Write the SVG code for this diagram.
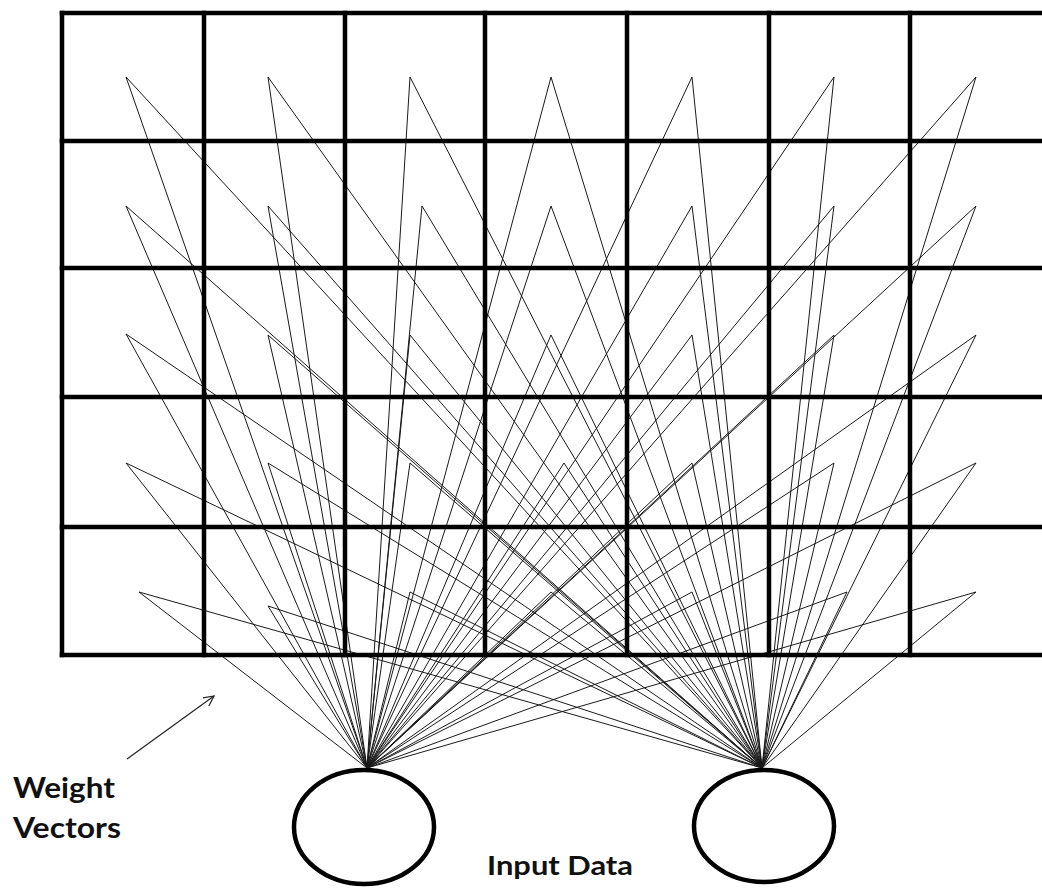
<svg xmlns="http://www.w3.org/2000/svg" width="1042" height="888" viewBox="0 0 1042 888">
<style>
.grid{stroke:#000;stroke-width:4.5;fill:none;stroke-linecap:square}
.c{stroke:#1a1a1a;stroke-width:1;fill:none}
.inp{stroke:#000;stroke-width:4.5;fill:#fff}
.lbl{font-family:Lato,"Liberation Sans",sans-serif;font-weight:bold;fill:#111}
</style>
<defs>
<marker id="open" markerWidth="14" markerHeight="14" refX="11" refY="6" orient="auto" markerUnits="userSpaceOnUse">
<path d="M1,1 L11,6 L1,11" stroke="#222" stroke-width="1.2" fill="none"/>
</marker>
</defs>
<rect width="1042" height="888" fill="#fff"/>
<g id="connectors">
<path class="c" d="M367,768 L126,77 L762,768 M367,768 L268,77 L762,768 M367,768 L410,77 L762,768 M367,768 L551,77 L762,768 M367,768 L692,77 L762,768 M367,768 L834,77 L762,768 M367,768 L976,77 L762,768"/>
<path class="c" d="M367,768 L126,206 L762,768 M367,768 L268,206 L762,768 M367,768 L422,206 L762,768 M367,768 L551,206 L762,768 M367,768 L692,206 L762,768 M367,768 L834,206 L762,768 M367,768 L976,206 L762,768"/>
<path class="c" d="M367,768 L126,334 L762,768 M367,768 L268,335 L762,768 M367,768 L410,335 L762,768 M367,768 L551,335 L762,768 M367,768 L692,335 L762,768 M367,768 L834,335 L762,768 M367,768 L976,335 L762,768"/>
<path class="c" d="M367,768 L126,463 L762,768 M367,768 L268,463 L762,768 M367,768 L410,463 L762,768 M367,768 L564,463 L762,768 M367,768 L692,463 L762,768 M367,768 L834,463 L762,768 M367,768 L976,463 L762,768"/>
<path class="c" d="M367,768 L139,592 L762,768 M367,768 L268,606 L762,768 M367,768 L410,592 L762,768 M367,768 L551,592 L762,768 M367,768 L692,592 L762,768 M367,768 L847,592 L762,768 M367,768 L976,592 L762,768"/>
</g>
<g id="grid">
<path class="grid" d="M62,13 H1044 M62,141 H1044 M62,268 H1044 M62,397 H1044 M62,527 H1044 M62,655 H1044"/>
<path class="grid" d="M62,13 V655 M204,13 V655 M345,13 V655 M485,13 V655 M627,13 V655 M769,13 V655 M910,13 V655"/>
</g>
<g id="input1"><ellipse class="inp" cx="364" cy="827" rx="70" ry="57"/></g>
<g id="input2"><ellipse class="inp" cx="764" cy="826" rx="70" ry="56"/></g>
<g id="weight-arrow">
<line x1="127" y1="759" x2="214" y2="696" stroke="#222" stroke-width="1.2" marker-end="url(#open)"/>
</g>
<g id="labels">
<text class="lbl" x="13" y="798" font-size="28" textLength="102" lengthAdjust="spacingAndGlyphs">Weight</text>
<text class="lbl" x="13" y="838" font-size="28" textLength="108" lengthAdjust="spacingAndGlyphs">Vectors</text>
<text class="lbl" x="487" y="875" font-size="27" textLength="146" lengthAdjust="spacingAndGlyphs">Input Data</text>
</g>
</svg>
